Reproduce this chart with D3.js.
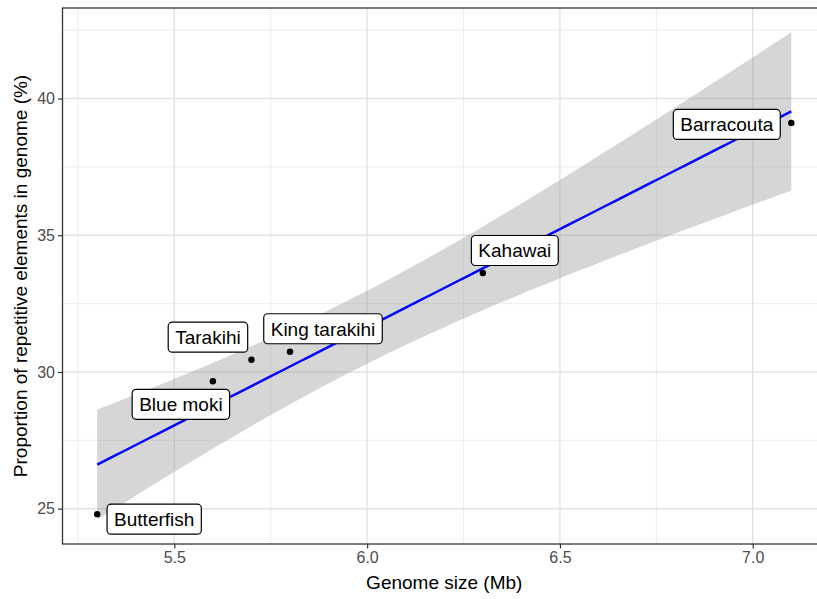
<!DOCTYPE html>
<html>
<head>
<meta charset="utf-8">
<script src="https://cdn.jsdelivr.net/npm/d3@7/dist/d3.min.js"></script>
<style>
  html, body { margin: 0; padding: 0; background: #fff; }
  svg { display: block; font-family: "Liberation Sans", Arial, sans-serif; }
</style>
</head>
<body>
<svg id="chart" width="817" height="599"></svg>
<script>
// Species, genome size (Mb) and share of repetitive elements (%)
const species = ["Butterfish", "Blue moki", "Tarakihi", "King tarakihi", "Kahawai", "Barracouta"];
const genomeSize = [5.3, 5.6, 5.7, 5.8, 6.3, 7.1];
const repeatPct = [24.8, 29.66, 30.45, 30.74, 33.62, 39.11];

const xTicks = [5.5, 6.0, 6.5, 7.0];
const xTickLabels = ["5.5", "6.0", "6.5", "7.0"];
const yTicks = [25, 30, 35, 40];
const yTickLabels = ["25", "30", "35", "40"];

// Pixel offsets of each repelled label box centre from its point
const labelOffsets = [[57, 5], [-32, 23], [-43.5, -22.5], [33, -23], [32, -22.5], [-64.5, 1.5]];

const svg = d3.select("#chart");
const panel = { left: 62.5, top: 8, right: 826, bottom: 544 };

// ---- linear model with 95% confidence band (as geom_smooth(method = "lm")) ----
const n = genomeSize.length;
const mx = d3.mean(genomeSize), my = d3.mean(repeatPct);
let sxx = 0, sxy = 0;
for (let i = 0; i < n; i++) {
  sxx += (genomeSize[i] - mx) ** 2;
  sxy += (genomeSize[i] - mx) * (repeatPct[i] - my);
}
const slope = sxy / sxx, intercept = my - slope * mx;
let sse = 0;
for (let i = 0; i < n; i++) sse += (repeatPct[i] - (intercept + slope * genomeSize[i])) ** 2;
const sigma = Math.sqrt(sse / (n - 2));
const tCrit = 2.776445; // qt(0.975, df = 4)
const [x0, x1] = d3.extent(genomeSize);
const fit = d3.range(80).map(k => {
  const x = x0 + (x1 - x0) * k / 79;
  const yhat = intercept + slope * x;
  const se = sigma * Math.sqrt(1 / n + (x - mx) ** 2 / sxx);
  return { x, y: yhat, lo: yhat - tCrit * se, hi: yhat + tCrit * se };
});

// ---- scales with 5% expansion ----
const xr = x1 - x0;
const x = d3.scaleLinear().domain([x0 - 0.05 * xr, x1 + 0.05 * xr]).range([panel.left, panel.right]);
const yMin = Math.min(d3.min(repeatPct), d3.min(fit, d => d.lo));
const yMax = Math.max(d3.max(repeatPct), d3.max(fit, d => d.hi));
const yr = yMax - yMin;
const y = d3.scaleLinear().domain([yMin - 0.05 * yr, yMax + 0.05 * yr]).range([panel.bottom, panel.top]);

// ---- grid ----
const grid = svg.append("g");
const xMinor = [5.25, 5.75, 6.25, 6.75].filter(v => v >= x.domain()[0] && v <= x.domain()[1]);
const yMinor = [27.5, 32.5, 37.5, 42.5].filter(v => v >= y.domain()[0] && v <= y.domain()[1]);
grid.selectAll(".xminor").data(xMinor).join("line")
  .attr("x1", d => x(d)).attr("x2", d => x(d)).attr("y1", panel.top).attr("y2", panel.bottom)
  .attr("stroke", "#ededed").attr("stroke-width", 1);
grid.selectAll(".yminor").data(yMinor).join("line")
  .attr("x1", panel.left).attr("x2", panel.right).attr("y1", d => y(d)).attr("y2", d => y(d))
  .attr("stroke", "#ededed").attr("stroke-width", 1);
grid.selectAll(".xmajor").data(xTicks).join("line")
  .attr("x1", d => x(d)).attr("x2", d => x(d)).attr("y1", panel.top).attr("y2", panel.bottom)
  .attr("stroke", "#e2e2e2").attr("stroke-width", 1.4);
grid.selectAll(".ymajor").data(yTicks).join("line")
  .attr("x1", panel.left).attr("x2", panel.right).attr("y1", d => y(d)).attr("y2", d => y(d))
  .attr("stroke", "#e2e2e2").attr("stroke-width", 1.4);

// ---- confidence ribbon and fitted line ----
svg.append("path").datum(fit)
  .attr("d", d3.area().x(d => x(d.x)).y0(d => y(d.lo)).y1(d => y(d.hi)))
  .attr("fill", "#999999").attr("fill-opacity", 0.4);
svg.append("path").datum(fit)
  .attr("d", d3.line().x(d => x(d.x)).y(d => y(d.y)))
  .attr("fill", "none").attr("stroke", "#0000ff").attr("stroke-width", 2.4);

// ---- points ----
const pts = species.map((s, i) => ({ s, gx: genomeSize[i], ry: repeatPct[i], off: labelOffsets[i] }));
svg.selectAll(".pt").data(pts).join("circle")
  .attr("cx", d => x(d.gx)).attr("cy", d => y(d.ry)).attr("r", 3.2).attr("fill", "#000");

// ---- labels ----
const lab = svg.selectAll(".lab").data(pts).join("g")
  .attr("transform", d => `translate(${x(d.gx) + d.off[0]},${y(d.ry) + d.off[1]})`);
const labText = lab.append("text")
  .attr("text-anchor", "middle").attr("dy", "0.36em")
  .attr("font-size", 19).attr("fill", "#000")
  .text(d => d.s);
labText.each(function () {
  const w = this.getComputedTextLength() + 14;
  d3.select(this.parentNode).insert("rect", "text")
    .attr("x", -w / 2).attr("y", -15).attr("width", w).attr("height", 30)
    .attr("rx", 4).attr("ry", 4)
    .attr("fill", "#fff").attr("stroke", "#000").attr("stroke-width", 1.2);
});

// ---- panel border ----
svg.append("rect")
  .attr("x", panel.left).attr("y", panel.top)
  .attr("width", panel.right - panel.left).attr("height", panel.bottom - panel.top)
  .attr("fill", "none").attr("stroke", "#333333").attr("stroke-width", 1.3);

// ---- axes ----
const xAxis = svg.append("g").attr("transform", `translate(0,${panel.bottom})`)
  .call(d3.axisBottom(x).tickValues(xTicks).tickFormat((d, i) => xTickLabels[i]).tickSize(4.5).tickPadding(3));
const yAxis = svg.append("g").attr("transform", `translate(${panel.left},0)`)
  .call(d3.axisLeft(y).tickValues(yTicks).tickFormat((d, i) => yTickLabels[i]).tickSize(4.5).tickPadding(3));
[xAxis, yAxis].forEach(g => {
  g.select(".domain").remove();
  g.selectAll(".tick line").attr("stroke", "#333333").attr("stroke-width", 1.2);
  g.selectAll(".tick text").attr("fill", "#4d4d4d").attr("font-size", 16)
    .attr("font-family", "'Liberation Sans', Arial, sans-serif");
});

// ---- axis titles ----
svg.append("text")
  .attr("x", (panel.left + panel.right) / 2).attr("y", 589)
  .attr("text-anchor", "middle").attr("font-size", 19).attr("fill", "#000")
  .text("Genome size (Mb)");
svg.append("text")
  .attr("transform", `translate(27,${(panel.top + panel.bottom) / 2}) rotate(-90)`)
  .attr("text-anchor", "middle").attr("font-size", 19).attr("fill", "#000")
  .text("Proportion of repetitive elements in genome (%)");
</script>
</body>
</html>
